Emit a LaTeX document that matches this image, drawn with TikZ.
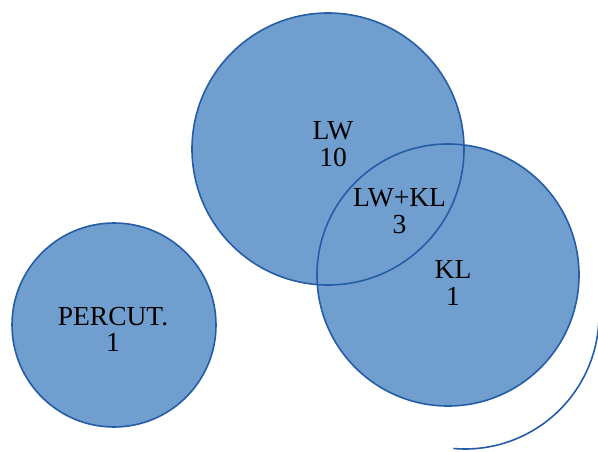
\documentclass[tikz,border=0pt]{standalone}
\usepackage{fontspec}
\setmainfont{Liberation Serif}
\definecolor{vennfill}{RGB}{112,159,207}
\definecolor{vennline}{RGB}{36,92,168}

\begin{document}
\begin{tikzpicture}[x=1pt, y=-1pt,
    set/.style = {circle, fill=vennfill, inner sep=0pt},
    rim/.style = {draw=vennline, line width=1.6pt},
    txt/.style = {align=center, inner sep=0pt, font=\fontsize{27.5}{26.5}\selectfont}]
        \useasboundingbox (0,0) rectangle (598,452);
        \clip (0,0) rectangle (598,452);
        % sets
        \node[set, minimum size=272pt] (lw) at (328,149) {};
        \node[set, minimum size=262pt] (kl) at (448,275) {};
        \node[set, minimum size=204pt] (pc) at (114,325) {};
        \coordinate (shade) at (465,315);
        % outlines
        \draw[rim] (lw.center) circle[radius=136pt];
        \draw[rim] (kl.center) circle[radius=131pt];
        \draw[rim] (pc.center) circle[radius=102pt];
        \draw[rim] ([shift={(0:134pt)}]shade) arc[start angle=0, end angle=-95, radius=134pt];
        % counts
        \node[txt] (lwtxt) at (333,144) {LW\\10};
        \node[txt] (bothtxt) at (399.5,211) {LW+KL\\3};
        \node[txt] (kltxt) at (453,283) {KL\\1};
        \node[txt] (pctxt) at (113,329.5) {PERCUT.\\1};
    \end{tikzpicture}
\end{document}
